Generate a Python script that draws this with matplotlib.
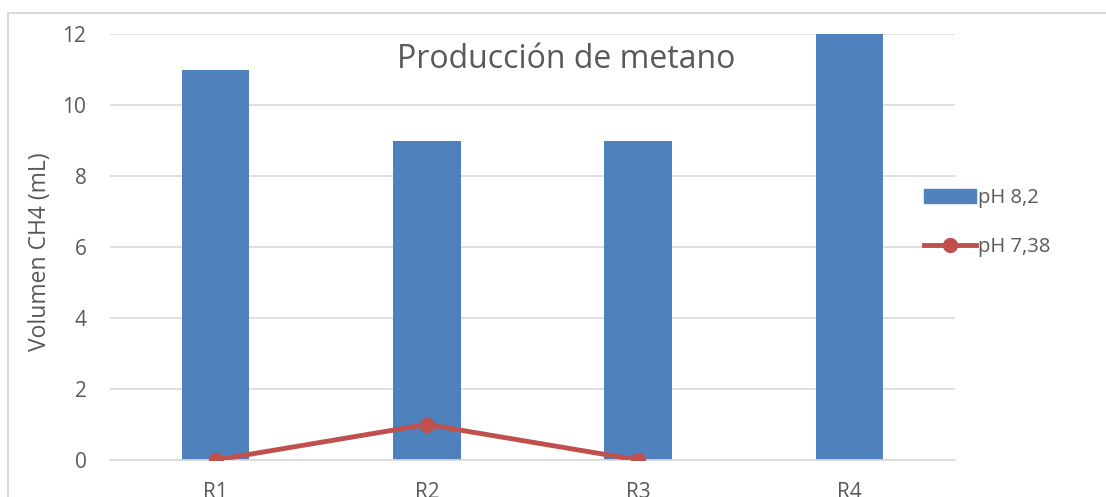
import matplotlib.pyplot as plt
from matplotlib.patches import Rectangle
from matplotlib.lines import Line2D

# datos
reactores = ['R1', 'R2', 'R3', 'R4']
ph_82 = [11, 9, 9, 12]
ph_738 = [0, 1, 0]

azul = '#4F81BD'
rojo = '#C0504D'
gris = '#595959'

plt.rcParams['font.family'] = ['Open Sans', 'DejaVu Sans']

fig = plt.figure(figsize=(11.06, 4.97), dpi=100)
ax = fig.add_axes([110/1106, 1-460/497, 845/1106, 426/497])

x = range(len(reactores))
ax.bar(x, ph_82, width=0.32, color=azul, zorder=2, label='pH 8,2')
ax.plot(range(len(ph_738)), ph_738, color=rojo, lw=3.5, marker='o', ms=10,
        zorder=3, label='pH 7,38')

ax.set_xlim(-0.5, 3.5)
ax.set_ylim(0, 12)
ax.set_yticks(range(0, 13, 2))
ax.set_xticks(list(x))
ax.set_xticklabels(reactores)
ax.tick_params(axis='both', length=0, labelsize=15, colors=gris)
ax.tick_params(axis='y', pad=17)
ax.tick_params(axis='x', pad=16)
ax.grid(axis='y', color='#D9D9D9', lw=1.2, zorder=0)
for s in ['top', 'right', 'left']:
    ax.spines[s].set_visible(False)
ax.spines['bottom'].set_color('#D9D9D9')
ax.spines['bottom'].set_linewidth(1.2)

fig.text(40/1106, 1-252/497, 'Volumen CH4 (mL)', rotation=90, ha='center',
         va='center', fontsize=16.5, color=gris)
ax.text(0.54, (460-68)/426, 'Producción de metano', transform=ax.transAxes,
        ha='center', va='baseline', fontsize=23, color=gris)

handles = [Rectangle((0, 0), 1, 1, color=azul),
           Line2D([], [], color=rojo, lw=3.5, marker='o', ms=10)]
fig.legend(handles, ['pH 8,2', 'pH 7,38'], loc='upper left',
           bbox_to_anchor=(906/1106, 1-170/497), frameon=False, fontsize=14.5,
           labelcolor=gris, handlelength=2.6, handletextpad=0.1,
           labelspacing=1.45)

# marco del grafico
fig.patches.append(Rectangle((8/1106, -0.1), 1.2, 1-13/497+0.1,
                             transform=fig.transFigure, fill=False,
                             edgecolor='#D9D9D9', lw=1.5))

fig.savefig('out.png', dpi=100)
